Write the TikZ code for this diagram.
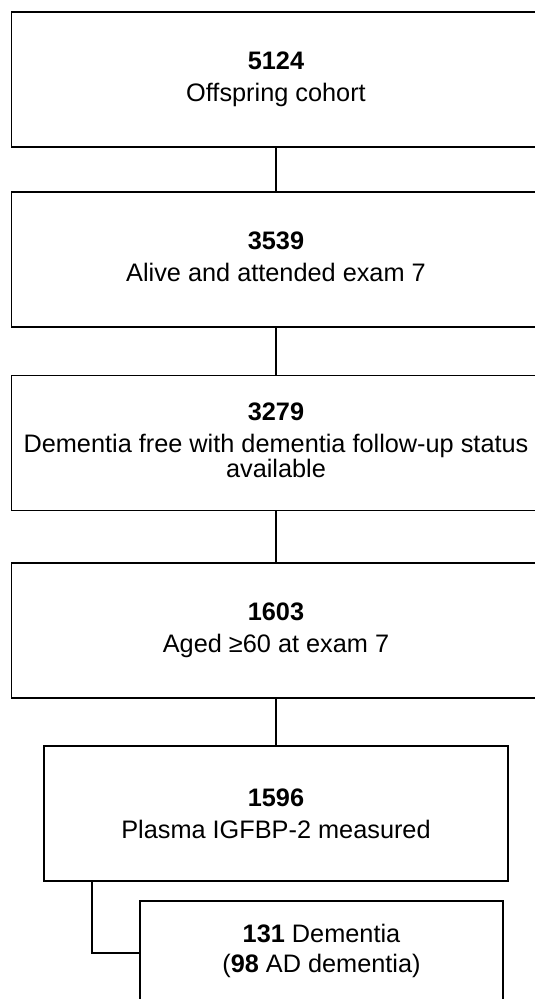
\documentclass[tikz,border=0pt]{standalone}
\usepackage{fontspec}
\setmainfont{Liberation Sans}
\begin{document}
\begin{tikzpicture}[x=1pt,y=-1pt,
  box/.style={draw=black, line width=1.2pt, inner sep=0pt, align=center,
    font=\fontsize{25.3}{23}\selectfont},
  wide/.style={box, minimum width=529pt, minimum height=135pt},
  link/.style={draw=black, line width=1.6pt}]
\useasboundingbox (0,0) rectangle (535,999);
\node[wide] (b1) at (276,79.5) {\textbf{5124}\\[9pt]Offspring cohort};
\node[wide] (b2) at (276,259.5) {\textbf{3539}\\[9pt]Alive and attended exam 7\vphantom{g}};
\node[wide] (b3) at (276,443) {\textbf{3279}\\[9pt]Dementia free with dementia follow-up status\\available\vphantom{g}};
\node[wide] (b4) at (276,630.5) {\textbf{1603}\\[9pt]Aged ≥60 at exam 7};
\node[box, minimum width=464pt, minimum height=135pt] (b5) at (276,813.5) {\textbf{1596}\\[9pt]Plasma IGFBP-2 measured};
\node[box, minimum width=363pt, minimum height=100pt] (b6) at (321.5,951) {\textbf{131} Dementia\\[7pt](\textbf{98} AD dementia)};
\coordinate (k) at (91.7,953);
\draw[link] (b1.south) -- (b2.north);
\draw[link] (b2.south) -- (b3.north);
\draw[link] (b3.south) -- (b4.north);
\draw[link] (b4.south) -- (b5.north);
\draw[link] (b5.south -| k) |- (k -| b6.west);
\end{tikzpicture}
\end{document}
